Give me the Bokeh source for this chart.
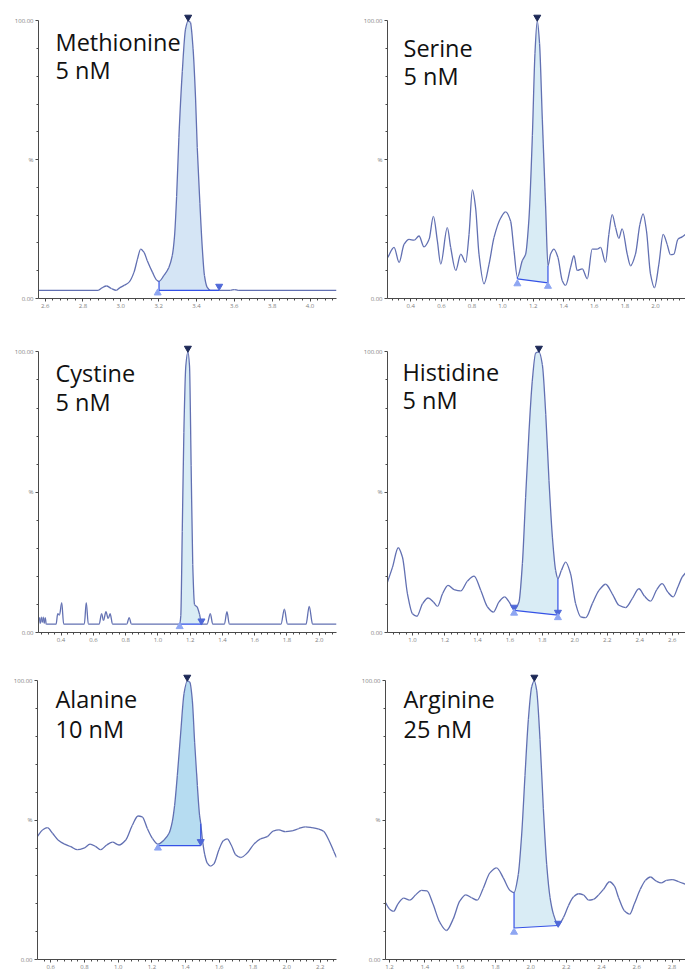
import numpy as np
from bokeh.plotting import figure
from bokeh.layouts import column, row
from bokeh.models import Range1d, FixedTicker, Label, NumeralTickFormatter
from bokeh.embed import file_html
from bokeh.resources import INLINE

# ---------------- data ----------------
met_t = [2.565, 2.88, 2.90, 2.924, 2.95, 2.976, 2.995, 3.02, 3.044, 3.07, 3.088, 3.105, 3.123, 3.14, 3.167,
         3.19, 3.202, 3.228, 3.254, 3.272, 3.284, 3.295, 3.307, 3.325, 3.342, 3.356, 3.368, 3.382, 3.395, 3.404,
         3.418, 3.43, 3.442, 3.456, 3.474, 3.52, 3.58, 3.60, 3.62, 4.14]
met_i = [2.96, 2.96, 3.8, 4.5, 3.6, 2.96, 3.9, 4.8, 5.9, 9.5, 14.2, 17.8, 16.6, 13.6, 9.5,
         6.6, 6.2, 8.3, 11.2, 15.4, 22.5, 36.7, 58.0, 81.7, 97.0, 100.0, 99.4, 89.9, 72.2, 54.4,
         34.3, 18.9, 8.3, 4.1, 2.96, 2.96, 2.96, 3.2, 2.96, 2.96]
met_int = [3.202, 3.52, 2.96, 2.96]          # start, end, baseline at start, baseline at end
met_apex = [3.356, 101.3]
met_marks = [(3.195, 2.0, "up"), (3.52, 4.4, "down")]

ser_t = [0.25, 0.291, 0.324, 0.356, 0.389, 0.422, 0.454, 0.487, 0.52, 0.548,
         0.574, 0.596, 0.639, 0.661, 0.694, 0.727, 0.759, 0.781, 0.803, 0.824,
         0.846, 0.879, 0.912, 0.944, 0.988, 1.02, 1.053, 1.075, 1.097, 1.129,
         1.151, 1.173, 1.195, 1.212, 1.227, 1.242, 1.26, 1.282, 1.297, 1.314,
         1.336, 1.362, 1.39, 1.412, 1.445, 1.467, 1.488, 1.521, 1.554, 1.586,
         1.619, 1.641, 1.673, 1.695, 1.717, 1.739, 1.76, 1.782, 1.815, 1.837,
         1.869, 1.898, 1.919, 1.941, 1.967, 1.993, 2.022, 2.05, 2.076, 2.098,
         2.12, 2.146, 2.174, 2.196]
ser_i = [14.8, 18.4, 13.0, 19.5, 21.3, 21.0, 22.5, 18.6, 21.3, 29.6,
         20.7, 12.4, 25.5, 18.4, 10.1, 16.0, 13.0, 23.1, 39.1, 32.6,
         16.0, 5.3, 12.4, 21.9, 29.0, 31.2, 27.8, 17.2, 7.7, 13.6,
         16.0, 29.0, 58.6, 88.3, 100.0, 91.8, 64.6, 32.6, 11.8, 16.0,
         17.8, 14.8, 6.5, 4.7, 11.3, 15.4, 10.1, 10.7, 7.1, 17.8,
         17.8, 18.4, 13.0, 23.1, 30.2, 25.5, 21.7, 25.1, 16.0, 11.8,
         16.0, 26.7, 30.5, 24.3, 8.9, 3.9, 12.4, 23.1, 19.5, 15.8,
         16.0, 21.3, 22.2, 23.1]
ser_int = [1.097, 1.297, 7.1, 5.6]
ser_apex = [1.227, 101.3]
ser_marks = [(1.097, 5.3, "up"), (1.297, 4.4, "up")]

cys_t = [0.26, 0.266, 0.272, 0.278, 0.284, 0.29, 0.296, 0.302, 0.308, 0.369,
         0.379, 0.39, 0.404, 0.416, 0.544, 0.556, 0.569, 0.636, 0.651, 0.663,
         0.678, 0.692, 0.704, 0.719, 0.807, 0.822, 0.836, 1.135, 1.142, 1.151,
         1.161, 1.173, 1.186, 1.196, 1.206, 1.216, 1.227, 1.243, 1.258, 1.272,
         1.305, 1.325, 1.34, 1.412, 1.428, 1.443, 1.763, 1.784, 1.803, 1.918,
         1.938, 1.959, 2.107]
cys_i = [2.95, 5.3, 3.3, 5.5, 3.6, 5.5, 3.3, 5.3, 2.95, 2.95,
         6.7, 6.2, 10.6, 2.95, 2.95, 10.6, 2.95, 2.95, 6.7, 4.3,
         7.4, 5.0, 6.7, 2.95, 2.95, 5.3, 2.95, 2.95, 6.0, 36.0,
         71.4, 95.0, 100.0, 95.0, 59.6, 24.2, 10.0, 9.1, 6.5, 2.95,
         2.95, 6.7, 2.95, 2.95, 7.4, 2.95, 2.95, 8.3, 2.95, 2.95,
         9.3, 2.95, 2.95]
cys_int = [1.135, 1.272, 2.95, 2.95]
cys_apex = [1.186, 101.3]
cys_marks = [(1.135, 2.1, "up"), (1.27, 4.1, "down")]

his_t = [0.846, 0.877, 0.912, 0.938, 0.969, 1.0, 1.027, 1.062, 1.096, 1.129,
         1.154, 1.185, 1.219, 1.256, 1.297, 1.338, 1.379, 1.421, 1.462, 1.498,
         1.533, 1.568, 1.595, 1.626, 1.656, 1.677, 1.697, 1.718, 1.738, 1.759,
         1.779, 1.8, 1.821, 1.841, 1.862, 1.882, 1.896, 1.917, 1.944, 1.974,
         2.005, 2.036, 2.067, 2.108, 2.149, 2.19, 2.231, 2.272, 2.313, 2.354,
         2.395, 2.43, 2.467, 2.505, 2.538, 2.573, 2.606, 2.635, 2.662, 2.682]
his_i = [18.0, 23.3, 30.2, 26.9, 13.8, 6.7, 5.8, 10.3, 12.3, 10.9,
         9.3, 13.8, 16.8, 15.3, 14.8, 18.3, 20.1, 15.0, 9.1, 7.3,
         10.9, 12.7, 10.9, 8.2, 10.9, 24.5, 48.2, 71.8, 89.6, 99.6,
         100.0, 95.5, 77.8, 54.1, 34.0, 22.1, 19.2, 22.1, 25.1, 20.9,
         10.3, 5.6, 5.3, 10.3, 15.0, 17.2, 13.8, 9.7, 8.9, 12.1,
         15.6, 12.9, 11.2, 15.3, 17.4, 14.4, 12.7, 16.2, 19.8, 21.2]
his_int = [1.626, 1.896, 7.9, 6.2]
his_apex = [1.779, 101.3]
his_marks = [(1.626, 9.0, "down"), (1.626, 6.9, "up"), (1.896, 7.2, "down"), (1.896, 5.3, "up")]

ala_t = [0.52, 0.551, 0.58, 0.61, 0.643, 0.679, 0.719, 0.758, 0.798, 0.833,
         0.867, 0.896, 0.932, 0.966, 1.005, 1.045, 1.084, 1.118, 1.143, 1.173,
         1.203, 1.236, 1.272, 1.302, 1.321, 1.335, 1.351, 1.371, 1.391, 1.41,
         1.426, 1.44, 1.454, 1.47, 1.483, 1.49, 1.50, 1.514, 1.529, 1.549,
         1.568, 1.598, 1.624, 1.647, 1.671, 1.697, 1.727, 1.766, 1.806, 1.845,
         1.885, 1.92, 1.954, 1.993, 2.033, 2.072, 2.112, 2.151, 2.191, 2.221,
         2.25, 2.28, 2.296]
ala_i = [44.1, 46.5, 47.3, 45.3, 42.9, 41.5, 40.5, 39.4, 40.0, 41.4,
         40.5, 39.4, 41.1, 42.1, 41.1, 42.9, 48.2, 51.5, 51.2, 47.0,
         43.5, 41.4, 42.9, 45.3, 49.4, 55.3, 66.0, 81.3, 95.5, 100.0,
         99.4, 93.1, 77.8, 62.4, 51.8, 48.8, 43.0, 37.6, 34.6, 33.5,
         34.3, 39.4, 42.6, 43.3, 41.1, 37.6, 36.6, 38.2, 41.4, 43.3,
         44.1, 46.1, 46.5, 45.9, 46.2, 47.0, 47.6, 47.3, 46.8, 45.9,
         42.9, 38.8, 36.6]
ala_int = [1.236, 1.49, 40.9, 40.9]
ala_apex = [1.41, 101.3]
ala_marks = [(1.236, 40.0, "up"), (1.49, 42.3, "down")]

arg_t = [1.177, 1.2, 1.223, 1.247, 1.28, 1.314, 1.348, 1.38, 1.412, 1.446,
         1.484, 1.522, 1.56, 1.598, 1.632, 1.664, 1.696, 1.73, 1.768, 1.806,
         1.844, 1.882, 1.905, 1.929, 1.948, 1.967, 1.986, 2.005, 2.02, 2.033,
         2.052, 2.071, 2.09, 2.109, 2.128, 2.155, 2.185, 2.213, 2.242, 2.27,
         2.298, 2.327, 2.355, 2.384, 2.412, 2.446, 2.473, 2.497, 2.53, 2.56,
         2.586, 2.62, 2.649, 2.677, 2.711, 2.738, 2.768, 2.8, 2.838, 2.876]
arg_i = [20.4, 18.1, 17.3, 19.9, 22.0, 21.3, 23.2, 24.8, 24.6, 19.9,
         13.4, 10.4, 14.5, 21.0, 23.2, 22.2, 21.3, 25.5, 31.1, 32.9,
         29.3, 24.8, 24.0, 30.5, 44.7, 66.0, 86.1, 97.9, 100.0, 96.7,
         79.0, 54.1, 34.0, 22.2, 16.3, 12.4, 15.1, 19.3, 22.5, 23.6,
         23.2, 21.3, 21.6, 23.2, 25.2, 27.9, 26.4, 22.2, 17.5, 16.3,
         19.9, 25.2, 28.4, 29.6, 28.1, 27.5, 28.4, 28.7, 27.9, 27.0]
arg_int = [1.905, 2.155, 11.3, 12.2]
arg_apex = [2.02, 101.3]
arg_marks = [(1.905, 9.8, "up"), (2.155, 13.0, "down")]

names = ["Methionine", "Serine", "Cystine", "Histidine", "Alanine", "Arginine"]
concs = ["5 nM", "5 nM", "5 nM", "5 nM", "10 nM", "25 nM"]
x_major = [[2.6, 2.8, 3.0, 3.2, 3.4, 3.6, 3.8, 4.0],
           [0.4, 0.6, 0.8, 1.0, 1.2, 1.4, 1.6, 1.8, 2.0, 2.2],
           [0.4, 0.6, 0.8, 1.0, 1.2, 1.4, 1.6, 1.8, 2.0],
           [1.0, 1.2, 1.4, 1.6, 1.8, 2.0, 2.2, 2.4, 2.6],
           [0.6, 0.8, 1.0, 1.2, 1.4, 1.6, 1.8, 2.0, 2.2],
           [1.2, 1.4, 1.6, 1.8, 2.0, 2.2, 2.4, 2.6, 2.8]]
x_ranges = [(2.565, 4.14), (0.248, 2.196), (0.26, 2.107), (0.846, 2.682), (0.521, 2.296), (1.177, 2.876)]

# ---------------- styling ----------------
TRACE = "#6270b2"
INTEG = "#3552e6"
UP_C = "#8ea6f2"
DOWN_C = "#4f68d8"
APEX_C = "#1c2856"
AX = "#4a4a4a"
TICKC = "#808080"
YTOP = 103.0

# geometry: (W, H, L, R, T, B, title_left, title_base1, title_base2)
geoms = [(340, 320, 38, 4, 12, 17, 55, 42, 70),
         (345, 320, 47, 0, 9, 22, 63, 45, 73),
         (340, 330, 38, 4, 20, 18, 55, 50, 79),
         (345, 330, 47, 0, 23, 18, 62, 51, 79),
         (340, 321, 37, 4, 22, 12, 55, 48, 78),
         (345, 321, 45, 0, 22, 12, 63, 48, 78)]
fills = ["#d5e5f5", "#d9ecf5", "#d9ecf5", "#d9ecf5", "#b6dcf1", "#d9ecf5"]

series = [(met_t, met_i, met_int, met_apex, met_marks),
          (ser_t, ser_i, ser_int, ser_apex, ser_marks),
          (cys_t, cys_i, cys_int, cys_apex, cys_marks),
          (his_t, his_i, his_int, his_apex, his_marks),
          (ala_t, ala_i, ala_int, ala_apex, ala_marks),
          (arg_t, arg_i, arg_int, arg_apex, arg_marks)]


def monotone_beziers(xs, ys):
    """Control points for a smooth (monotone cubic) rendering through the read points."""
    x = np.asarray(xs, float)
    y = np.asarray(ys, float)
    h = np.diff(x)
    d = np.diff(y) / h
    n = len(x)
    m = np.zeros(n)
    m[0] = d[0]
    m[-1] = d[-1]
    for k in range(1, n - 1):
        if d[k - 1] * d[k] <= 0:
            m[k] = 0.0
        else:
            w1 = 2 * h[k] + h[k - 1]
            w2 = h[k] + 2 * h[k - 1]
            m[k] = (w1 + w2) / (w1 / d[k - 1] + w2 / d[k])
    cx0 = x[:-1] + h / 3
    cy0 = y[:-1] + m[:-1] * h / 3
    cx1 = x[1:] - h / 3
    cy1 = y[1:] - m[1:] * h / 3
    return dict(x0=list(x[:-1]), y0=list(y[:-1]), x1=list(x[1:]), y1=list(y[1:]),
                cx0=list(cx0), cy0=list(cy0), cx1=list(cx1), cy1=list(cy1))


def make_panel(k):
    t, inten, integ, apex, marks = series[k]
    W, H, L, R, T, B, tl, tb1, tb2 = geoms[k]
    x0, x1 = x_ranges[k]
    p = figure(width=W, height=H, x_range=Range1d(x0, x1), y_range=Range1d(0, YTOP),
               output_backend="svg", toolbar_location=None,
               min_border_left=L, min_border_right=R, min_border_top=T, min_border_bottom=B)
    p.outline_line_color = None
    p.xgrid.visible = False
    p.ygrid.visible = False
    p.background_fill_color = "white"
    p.border_fill_color = "white"

    # axes
    maj = x_major[k]
    step = 0.04
    minor = list(np.round(np.arange(maj[0] - 0.2, maj[-1] + 0.2 + 1e-9, step), 3))
    p.xaxis.ticker = FixedTicker(ticks=maj, minor_ticks=minor)
    p.xaxis.formatter = NumeralTickFormatter(format="0.0")
    p.yaxis.ticker = FixedTicker(ticks=[0, 50, 100], minor_ticks=[10, 20, 30, 40, 60, 70, 80, 90])
    p.yaxis.major_label_overrides = {0: "0.00", 50: "%", 100: "100.00"}
    p.yaxis.bounds = (0, 100)
    for ax in (p.xaxis[0], p.yaxis[0]):
        ax.axis_line_color = AX
        ax.axis_line_width = 1
        ax.major_tick_line_color = AX
        ax.minor_tick_line_color = AX
        ax.major_tick_in = 0
        ax.minor_tick_in = 0
        ax.major_tick_out = 3
        ax.minor_tick_out = 2
        ax.major_label_text_font = "Open Sans"
        ax.major_label_text_font_size = "6px"
        ax.major_label_text_color = TICKC
        ax.major_label_standoff = 2

    # integrated area
    ts, te, bs, be = integ
    px = [ts] + [a for a in t if ts <= a <= te] + [te]
    py = [bs] + [b for a, b in zip(t, inten) if ts <= a <= te] + [be]
    p.patch(px, py, fill_color=fills[k], line_color=None)

    # trace, drawn as smooth curve segments through the read points
    bz = monotone_beziers(t, inten)
    p.bezier(line_color=TRACE, line_width=1.3, **bz)

    # integration baseline and drop lines
    ys_start = inten[t.index(ts)]
    ye_end = inten[t.index(te)]
    p.line([ts, te], [bs, be], line_color=INTEG, line_width=1.2)
    p.line([ts, ts], [bs, ys_start], line_color=INTEG, line_width=1.2)
    p.line([te, te], [be, ye_end], line_color=INTEG, line_width=1.2)

    # markers
    for mx, my, kind in marks:
        if kind == "up":
            p.scatter([mx], [my], marker="triangle", size=7, fill_color=UP_C, line_color=UP_C)
        else:
            p.scatter([mx], [my], marker="inverted_triangle", size=7, fill_color=DOWN_C, line_color=DOWN_C)
    p.scatter([apex[0]], [apex[1]], marker="inverted_triangle", size=7, fill_color=APEX_C, line_color=APEX_C)

    # title labels (pixel positions converted to data)
    fw = W - L - R
    fh = H - T - B

    def dx(pxx):
        return x0 + (pxx - L) / fw * (x1 - x0)

    def dy(pyy):
        return (H - B - pyy) / fh * YTOP

    for txt, base in ((names[k], tb1), (concs[k], tb2)):
        p.add_layout(Label(x=dx(tl), y=dy(base), text=txt, text_font="Open Sans",
                           text_font_size="23.5px", text_color="#111111",
                           text_baseline="alphabetic", text_align="left"))
    return p


panels = [make_panel(k) for k in range(6)]
layout = column(row(panels[0], panels[1]), row(panels[2], panels[3]), row(panels[4], panels[5]))
open("out.html", "w").write(file_html(layout, INLINE))
